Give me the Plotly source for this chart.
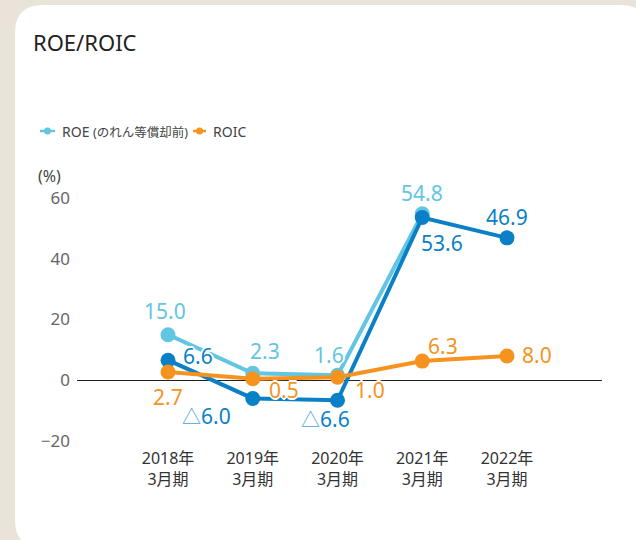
import plotly.graph_objects as go

# ---- data ----
categories = ["2018年<br>3月期", "2019年<br>3月期", "2020年<br>3月期", "2021年<br>3月期", "2022年<br>3月期"]
roe_before_amort = [15.0, 2.3, 1.6, 54.8, None]   # ROE（のれん等償却前）
roe = [6.6, -6.0, -6.6, 53.6, 46.9]                # ROE
roic = [2.7, 0.5, 1.0, 6.3, 8.0]                   # ROIC
y_ticks = [-20, 0, 20, 40, 60]
legend_names = ["ROE", "(のれん等償却前)", "ROIC"]

# ---- styles ----
C_LB = "#62c5e2"
C_DB = "#0a80c6"
C_OR = "#f6921e"
C_TRI = "#4aa3da"
FONT = "Noto Sans, Noto Sans CJK JP, sans-serif"
HALO = "white 1px 1px 0px, white -1px -1px 0px, white 1px -1px 0px, white -1px 1px 0px, white 2px 0px 0px, white -2px 0px 0px, white 0px 2px 0px, white 0px -2px 0px"

# plot-area pixel geometry
L, R, T, B = 77, 34, 198, 99
W, H = 636, 540
PW, PH = W - L - R, H - T - B


def px(xp):
    return (xp - L) / PW


def py(yp):
    return (H - B - yp) / PH


xs = list(range(len(categories)))

fig = go.Figure()


def add_series(vals, color, name):
    fig.add_trace(go.Scatter(
        x=xs, y=vals, mode="lines+markers", name=name, showlegend=False,
        line=dict(color=color, width=4),
        marker=dict(color=color, size=15),
        cliponaxis=False, connectgaps=False,
    ))


add_series(roe_before_amort, C_LB, legend_names[0] + " " + legend_names[1])
add_series(roe, C_DB, "ROE")
add_series(roic, C_OR, legend_names[2])


def fmt(v):
    if v < 0:
        return f"<span style='color:{C_TRI};font-size:19px'>△</span>{abs(v):.1f}"
    return f"{v:.1f}"


# label offsets (px) per point: (xshift, yshift)
off_lb = [(-3, 24), (12, 22), (-9, 20), (0, 21), None]
off_db = [(30, 4), (-46, -18), (-12, -19), (20, -26), (0, 21)]
off_or = [(0, -25), (31, -11), (32, -13), (21, 15), (30, 1)]

annotations = []
for vals, offs, color in [(roe_before_amort, off_lb, C_LB), (roe, off_db, C_DB), (roic, off_or, C_OR)]:
    for i, v in enumerate(vals):
        if v is None or offs[i] is None:
            continue
        annotations.append(dict(
            x=xs[i], y=v, xref="x", yref="y", text=fmt(v), showarrow=False,
            xshift=offs[i][0], yshift=offs[i][1],
            font=dict(family=FONT, size=21, color=color, shadow=HALO),
        ))

annotations.append(dict(
    x=px(31), y=py(42), xref="paper", yref="paper", text="ROE/ROIC",
    showarrow=False, xanchor="left", yanchor="middle",
    font=dict(family=FONT, size=22, color="#222222"),
))
annotations.append(dict(
    x=px(36), y=py(176), xref="paper", yref="paper", text="(%)",
    showarrow=False, xanchor="left", yanchor="middle",
    font=dict(family=FONT, size=16, color="#444444"),
))

# ---- legend (drawn as key glyphs + text) ----
LEG_Y = 131
legend_items = [
    (40, 55, C_LB, f"{legend_names[0]} <span style='font-size:12.5px'>{legend_names[1]}</span>", 60),
    (193, 206, C_OR, legend_names[2], 211),
]
shapes = []
# white rounded card
x0, y0, x1, y1, r = 15, 5, 648, 548, 28
card = (
    f"M {px(x0 + r)},{py(y0)} L {px(x1 - r)},{py(y0)} Q {px(x1)},{py(y0)} {px(x1)},{py(y0 + r)} "
    f"L {px(x1)},{py(y1 - r)} Q {px(x1)},{py(y1)} {px(x1 - r)},{py(y1)} "
    f"L {px(x0 + r)},{py(y1)} Q {px(x0)},{py(y1)} {px(x0)},{py(y1 - r)} "
    f"L {px(x0)},{py(y0 + r)} Q {px(x0)},{py(y0)} {px(x0 + r)},{py(y0)} Z"
)
shapes.append(dict(type="path", path=card, xref="paper", yref="paper",
                   fillcolor="white", line=dict(width=0), layer="below"))
for (a, b, col, txt, tx) in legend_items:
    shapes.append(dict(type="line", xref="paper", yref="paper",
                       x0=px(a), x1=px(b), y0=py(LEG_Y), y1=py(LEG_Y),
                       line=dict(color=col, width=2.5)))
    c = (a + b) / 2
    shapes.append(dict(type="circle", xref="paper", yref="paper",
                       x0=px(c - 3.5), x1=px(c + 3.5), y0=py(LEG_Y + 3.5), y1=py(LEG_Y - 3.5),
                       fillcolor=col, line=dict(width=0)))
    annotations.append(dict(
        x=px(tx), y=py(LEG_Y), xref="paper", yref="paper", text=txt,
        showarrow=False, xanchor="left", yanchor="middle",
        font=dict(family=FONT, size=14, color="#444444"),
    ))

fig.update_layout(
    width=W, height=H,
    margin=dict(l=L, r=R, t=T, b=B, autoexpand=False),
    paper_bgcolor="#e9e3da",
    plot_bgcolor="rgba(0,0,0,0)",
    font=dict(family=FONT, color="#333333"),
    shapes=shapes,
    annotations=annotations,
    showlegend=False,
    xaxis=dict(
        range=[-1.074, 5.121], tickmode="array", tickvals=xs, ticktext=categories,
        showgrid=False, zeroline=False, showline=False, ticks="",
        tickfont=dict(family=FONT, size=16, color="#333333"),
        ticklabelstandoff=6, fixedrange=True,
    ),
    yaxis=dict(
        range=[-20.02, 60.02], tickmode="array", tickvals=y_ticks,
        showgrid=False, zeroline=True, zerolinecolor="#222222", zerolinewidth=1,
        showline=False, ticks="",
        tickfont=dict(family=FONT, size=17, color="#666666"),
        ticklabelstandoff=6, fixedrange=True,
    ),
)

fig.write_html(
    "out.html",
    config={"displayModeBar": False},
    post_script="document.body.style.margin='0';document.body.style.overflow='hidden';",
)
